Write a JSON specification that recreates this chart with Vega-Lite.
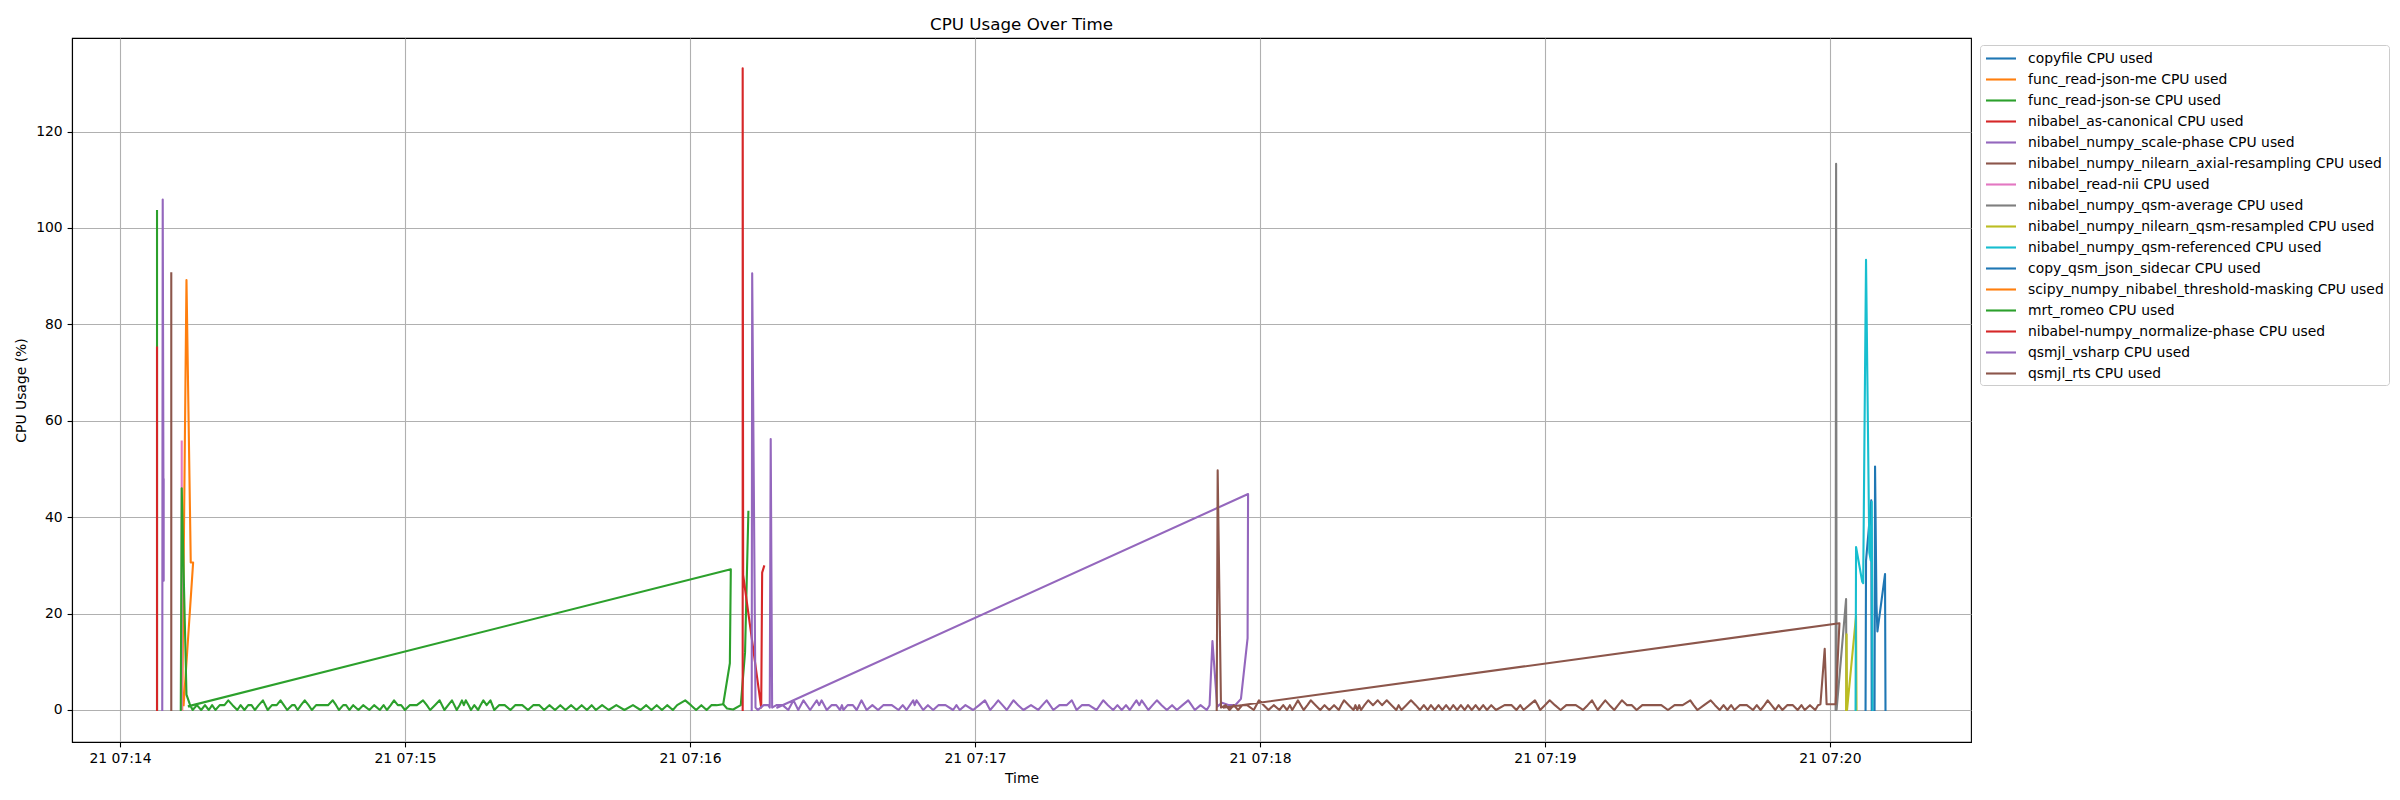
{
"$schema":"https://vega.github.io/schema/vega-lite/v6.json",
"width":1899,"height":704,
"autosize":{"type":"none"},
"padding":{"left":72,"top":38,"right":429,"bottom":58},
"background":"white",
"title":{"text":"CPU Usage Over Time","fontSize":16.7,"font":"DejaVu Sans","fontWeight":"normal","color":"black","anchor":"middle","offset":9,"dy":18,"baseline":"alphabetic"},
"datasets":{"names":[
{"k":0,"s":"copyfile CPU used"},{"k":1,"s":"func_read-json-me CPU used"},{"k":2,"s":"func_read-json-se CPU used"},{"k":3,"s":"nibabel_as-canonical CPU used"},{"k":4,"s":"nibabel_numpy_scale-phase CPU used"},{"k":5,"s":"nibabel_numpy_nilearn_axial-resampling CPU used"},{"k":6,"s":"nibabel_read-nii CPU used"},{"k":7,"s":"nibabel_numpy_qsm-average CPU used"},{"k":8,"s":"nibabel_numpy_nilearn_qsm-resampled CPU used"},{"k":9,"s":"nibabel_numpy_qsm-referenced CPU used"},{"k":10,"s":"copy_qsm_json_sidecar CPU used"},{"k":11,"s":"scipy_numpy_nibabel_threshold-masking CPU used"},{"k":12,"s":"mrt_romeo CPU used"},{"k":13,"s":"nibabel-numpy_normalize-phase CPU used"},{"k":14,"s":"qsmjl_vsharp CPU used"},{"k":15,"s":"qsmjl_rts CPU used"}]},
"data":{"values":[
{"k":0,"t":"2024-01-21T07:20:07.5","v":0},{"k":0,"t":"2024-01-21T07:20:07.6","v":31},{"k":0,"t":"2024-01-21T07:20:08.7","v":43.5},{"k":0,"t":"2024-01-21T07:20:08.8","v":0},
{"k":1,"t":"2024-01-21T07:14:13.1","v":0},{"k":1,"t":"2024-01-21T07:14:14.0","v":89.2},{"k":1,"t":"2024-01-21T07:14:14.8","v":37.3},{"k":1,"t":"2024-01-21T07:14:14.9","v":30.6},{"k":1,"t":"2024-01-21T07:14:15.4","v":30.6},{"k":1,"t":"2024-01-21T07:14:13.4","v":1},
{"k":2,"g":"a","t":"2024-01-21T07:14:07.8","v":0},{"k":2,"g":"a","t":"2024-01-21T07:14:07.8","v":103.5},
{"k":2,"g":"b","t":"2024-01-21T07:16:07.0","v":1.2},{"k":2,"g":"b","t":"2024-01-21T07:16:07.8","v":0.3},{"k":2,"g":"b","t":"2024-01-21T07:16:09.1","v":0.1},{"k":2,"g":"b","t":"2024-01-21T07:16:10.7","v":1},{"k":2,"g":"b","t":"2024-01-21T07:16:11.6","v":12},{"k":2,"g":"b","t":"2024-01-21T07:16:12.3","v":41.1},
{"k":3,"t":"2024-01-21T07:14:07.8","v":0},{"k":3,"t":"2024-01-21T07:14:07.8","v":75.2},
{"k":4,"t":"2024-01-21T07:14:08.9","v":0},{"k":4,"t":"2024-01-21T07:14:09.0","v":105.9},{"k":4,"t":"2024-01-21T07:14:09.2","v":26.8},{"k":4,"t":"2024-01-21T07:14:09.2","v":47.8},
{"k":5,"t":"2024-01-21T07:14:10.8","v":0},{"k":5,"t":"2024-01-21T07:14:10.8","v":90.6},
{"k":6,"t":"2024-01-21T07:14:13.0","v":0},{"k":6,"t":"2024-01-21T07:14:13.0","v":55.7},
{"k":7,"t":"2024-01-21T07:20:01.2","v":0},{"k":7,"t":"2024-01-21T07:20:01.3","v":113.3},{"k":7,"t":"2024-01-21T07:20:01.4","v":0},{"k":7,"t":"2024-01-21T07:20:03.4","v":23},{"k":7,"t":"2024-01-21T07:20:03.5","v":0},
{"k":8,"t":"2024-01-21T07:20:03.4","v":0},{"k":8,"t":"2024-01-21T07:20:03.5","v":15.7},{"k":8,"t":"2024-01-21T07:20:03.6","v":0},{"k":8,"t":"2024-01-21T07:20:05.5","v":19.5},{"k":8,"t":"2024-01-21T07:20:05.6","v":0},
{"k":9,"t":"2024-01-21T07:20:05.4","v":0},{"k":9,"t":"2024-01-21T07:20:05.5","v":33.8},{"k":9,"t":"2024-01-21T07:20:06.8","v":26.6},{"k":9,"t":"2024-01-21T07:20:07.0","v":26.3},{"k":9,"t":"2024-01-21T07:20:07.6","v":93.4},{"k":9,"t":"2024-01-21T07:20:08.3","v":32.6},{"k":9,"t":"2024-01-21T07:20:08.6","v":31},{"k":9,"t":"2024-01-21T07:20:08.8","v":43.2},{"k":9,"t":"2024-01-21T07:20:09.0","v":0},
{"k":10,"t":"2024-01-21T07:20:09.4","v":0},{"k":10,"t":"2024-01-21T07:20:09.5","v":50.5},{"k":10,"t":"2024-01-21T07:20:09.8","v":21.9},{"k":10,"t":"2024-01-21T07:20:10.0","v":16.3},{"k":10,"t":"2024-01-21T07:20:11.6","v":28.2},{"k":10,"t":"2024-01-21T07:20:11.7","v":0},
{"k":12,"t":"2024-01-21T07:14:12.8","v":0},{"k":12,"t":"2024-01-21T07:14:13.0","v":46},{"k":12,"t":"2024-01-21T07:14:14.0","v":3.2},{"k":12,"t":"2024-01-21T07:14:14.7","v":1.2},
{"k":12,"t":"2024-01-21T07:14:15.3","v":0},{"k":12,"t":"2024-01-21T07:14:16.2","v":1},{"k":12,"t":"2024-01-21T07:14:17.1","v":0},{"k":12,"t":"2024-01-21T07:14:17.9","v":1},{"k":12,"t":"2024-01-21T07:14:18.7","v":0},{"k":12,"t":"2024-01-21T07:14:19.4","v":1},{"k":12,"t":"2024-01-21T07:14:20.1","v":0},{"k":12,"t":"2024-01-21T07:14:21.0","v":1},{"k":12,"t":"2024-01-21T07:14:22.0","v":1},{"k":12,"t":"2024-01-21T07:14:22.8","v":2},{"k":12,"t":"2024-01-21T07:14:23.7","v":1},{"k":12,"t":"2024-01-21T07:14:24.7","v":0},{"k":12,"t":"2024-01-21T07:14:25.4","v":1},{"k":12,"t":"2024-01-21T07:14:26.2","v":0},{"k":12,"t":"2024-01-21T07:14:27.0","v":1},{"k":12,"t":"2024-01-21T07:14:27.7","v":1},{"k":12,"t":"2024-01-21T07:14:28.4","v":0},{"k":12,"t":"2024-01-21T07:14:29.2","v":1},{"k":12,"t":"2024-01-21T07:14:30.1","v":2},{"k":12,"t":"2024-01-21T07:14:31.1","v":0},{"k":12,"t":"2024-01-21T07:14:32.0","v":1},{"k":12,"t":"2024-01-21T07:14:33.0","v":1},{"k":12,"t":"2024-01-21T07:14:33.8","v":2},{"k":12,"t":"2024-01-21T07:14:34.5","v":1},{"k":12,"t":"2024-01-21T07:14:35.2","v":0},{"k":12,"t":"2024-01-21T07:14:36.2","v":1},{"k":12,"t":"2024-01-21T07:14:36.8","v":1},{"k":12,"t":"2024-01-21T07:14:37.4","v":0},{"k":12,"t":"2024-01-21T07:14:38.1","v":1},{"k":12,"t":"2024-01-21T07:14:38.9","v":2},{"k":12,"t":"2024-01-21T07:14:39.7","v":1},{"k":12,"t":"2024-01-21T07:14:40.4","v":0},{"k":12,"t":"2024-01-21T07:14:41.3","v":1},{"k":12,"t":"2024-01-21T07:14:42.5","v":1},{"k":12,"t":"2024-01-21T07:14:43.8","v":1},{"k":12,"t":"2024-01-21T07:14:44.8","v":2},{"k":12,"t":"2024-01-21T07:14:45.5","v":1},{"k":12,"t":"2024-01-21T07:14:46.1","v":0},{"k":12,"t":"2024-01-21T07:14:47.0","v":1},{"k":12,"t":"2024-01-21T07:14:47.6","v":1},{"k":12,"t":"2024-01-21T07:14:48.3","v":0},{"k":12,"t":"2024-01-21T07:14:49.1","v":1},{"k":12,"t":"2024-01-21T07:14:50.2","v":0},{"k":12,"t":"2024-01-21T07:14:51.2","v":1},{"k":12,"t":"2024-01-21T07:14:52.5","v":0},{"k":12,"t":"2024-01-21T07:14:53.5","v":1},{"k":12,"t":"2024-01-21T07:14:54.7","v":0},{"k":12,"t":"2024-01-21T07:14:55.5","v":1},{"k":12,"t":"2024-01-21T07:14:56.2","v":0},{"k":12,"t":"2024-01-21T07:14:57.0","v":1},{"k":12,"t":"2024-01-21T07:14:57.7","v":2},{"k":12,"t":"2024-01-21T07:14:58.5","v":1},{"k":12,"t":"2024-01-21T07:14:59.2","v":1},
{"k":12,"t":"2024-01-21T07:15:00.0","v":0},{"k":12,"t":"2024-01-21T07:15:01.0","v":1},{"k":12,"t":"2024-01-21T07:15:02.5","v":1},{"k":12,"t":"2024-01-21T07:15:03.8","v":2},{"k":12,"t":"2024-01-21T07:15:04.6","v":1},{"k":12,"t":"2024-01-21T07:15:05.3","v":0},{"k":12,"t":"2024-01-21T07:15:06.3","v":1},{"k":12,"t":"2024-01-21T07:15:07.3","v":2},{"k":12,"t":"2024-01-21T07:15:08.3","v":0},{"k":12,"t":"2024-01-21T07:15:09.1","v":1},{"k":12,"t":"2024-01-21T07:15:09.9","v":2},{"k":12,"t":"2024-01-21T07:15:10.9","v":0},{"k":12,"t":"2024-01-21T07:15:11.5","v":1},{"k":12,"t":"2024-01-21T07:15:12.0","v":2},{"k":12,"t":"2024-01-21T07:15:12.4","v":1},{"k":12,"t":"2024-01-21T07:15:12.8","v":2},{"k":12,"t":"2024-01-21T07:15:13.4","v":1},{"k":12,"t":"2024-01-21T07:15:13.9","v":0},{"k":12,"t":"2024-01-21T07:15:14.6","v":1},{"k":12,"t":"2024-01-21T07:15:15.4","v":0},{"k":12,"t":"2024-01-21T07:15:15.9","v":1},{"k":12,"t":"2024-01-21T07:15:16.5","v":2},{"k":12,"t":"2024-01-21T07:15:17.2","v":1},{"k":12,"t":"2024-01-21T07:15:18.0","v":2},{"k":12,"t":"2024-01-21T07:15:18.8","v":0},{"k":12,"t":"2024-01-21T07:15:19.8","v":1},{"k":12,"t":"2024-01-21T07:15:21.0","v":1},{"k":12,"t":"2024-01-21T07:15:22.2","v":0},{"k":12,"t":"2024-01-21T07:15:23.2","v":1},{"k":12,"t":"2024-01-21T07:15:24.7","v":1},{"k":12,"t":"2024-01-21T07:15:25.9","v":0},{"k":12,"t":"2024-01-21T07:15:27.0","v":1},{"k":12,"t":"2024-01-21T07:15:28.3","v":1},{"k":12,"t":"2024-01-21T07:15:29.3","v":0},{"k":12,"t":"2024-01-21T07:15:30.4","v":1},{"k":12,"t":"2024-01-21T07:15:31.6","v":0},{"k":12,"t":"2024-01-21T07:15:32.7","v":1},{"k":12,"t":"2024-01-21T07:15:33.8","v":0},{"k":12,"t":"2024-01-21T07:15:35.0","v":1},{"k":12,"t":"2024-01-21T07:15:36.1","v":0},{"k":12,"t":"2024-01-21T07:15:37.2","v":1},{"k":12,"t":"2024-01-21T07:15:38.3","v":0},{"k":12,"t":"2024-01-21T07:15:39.3","v":1},{"k":12,"t":"2024-01-21T07:15:40.2","v":0},{"k":12,"t":"2024-01-21T07:15:41.5","v":1},{"k":12,"t":"2024-01-21T07:15:42.9","v":0},{"k":12,"t":"2024-01-21T07:15:44.5","v":1},{"k":12,"t":"2024-01-21T07:15:46.2","v":0},{"k":12,"t":"2024-01-21T07:15:48.0","v":1},{"k":12,"t":"2024-01-21T07:15:49.6","v":0},{"k":12,"t":"2024-01-21T07:15:50.8","v":1},{"k":12,"t":"2024-01-21T07:15:51.9","v":0},{"k":12,"t":"2024-01-21T07:15:53.0","v":1},{"k":12,"t":"2024-01-21T07:15:54.1","v":0},{"k":12,"t":"2024-01-21T07:15:55.2","v":1},{"k":12,"t":"2024-01-21T07:15:56.4","v":0},{"k":12,"t":"2024-01-21T07:15:57.3","v":1},{"k":12,"t":"2024-01-21T07:15:59.0","v":2},
{"k":12,"t":"2024-01-21T07:16:00.2","v":1},{"k":12,"t":"2024-01-21T07:16:01.3","v":0},{"k":12,"t":"2024-01-21T07:16:02.4","v":1},{"k":12,"t":"2024-01-21T07:16:03.5","v":0},{"k":12,"t":"2024-01-21T07:16:04.5","v":1},{"k":12,"t":"2024-01-21T07:16:05.6","v":1},{"k":12,"t":"2024-01-21T07:16:07.0","v":1.2},{"k":12,"t":"2024-01-21T07:16:08.4","v":9.7},{"k":12,"t":"2024-01-21T07:16:08.6","v":29.2},{"k":12,"t":"2024-01-21T07:14:14.5","v":0.8},
{"k":13,"t":"2024-01-21T07:16:11.1","v":0},{"k":13,"t":"2024-01-21T07:16:11.1","v":133.1},{"k":13,"t":"2024-01-21T07:16:11.2","v":28},{"k":13,"t":"2024-01-21T07:16:15.0","v":0.5},{"k":13,"t":"2024-01-21T07:16:15.2","v":28.5},{"k":13,"t":"2024-01-21T07:16:15.6","v":29.8},
{"k":14,"t":"2024-01-21T07:16:13.0","v":0},{"k":14,"t":"2024-01-21T07:16:13.1","v":90.6},{"k":14,"t":"2024-01-21T07:16:13.8","v":0.5},{"k":14,"t":"2024-01-21T07:16:14.3","v":0},{"k":14,"t":"2024-01-21T07:16:15.5","v":1},{"k":14,"t":"2024-01-21T07:16:16.5","v":1},{"k":14,"t":"2024-01-21T07:16:16.8","v":0.5},{"k":14,"t":"2024-01-21T07:16:17.0","v":56.2},{"k":14,"t":"2024-01-21T07:16:17.3","v":0.5},
{"k":14,"t":"2024-01-21T07:16:18.2","v":1},{"k":14,"t":"2024-01-21T07:16:19.5","v":1},{"k":14,"t":"2024-01-21T07:16:20.7","v":0},{"k":14,"t":"2024-01-21T07:16:21.8","v":2},{"k":14,"t":"2024-01-21T07:16:22.8","v":0},{"k":14,"t":"2024-01-21T07:16:23.9","v":2},{"k":14,"t":"2024-01-21T07:16:25.3","v":0},{"k":14,"t":"2024-01-21T07:16:26.7","v":2},{"k":14,"t":"2024-01-21T07:16:27.2","v":1},{"k":14,"t":"2024-01-21T07:16:27.7","v":2},{"k":14,"t":"2024-01-21T07:16:28.8","v":0},{"k":14,"t":"2024-01-21T07:16:29.8","v":1},{"k":14,"t":"2024-01-21T07:16:30.8","v":1},{"k":14,"t":"2024-01-21T07:16:31.6","v":0},{"k":14,"t":"2024-01-21T07:16:32.0","v":1},{"k":14,"t":"2024-01-21T07:16:32.3","v":0},{"k":14,"t":"2024-01-21T07:16:33.2","v":1},{"k":14,"t":"2024-01-21T07:16:34.3","v":1},{"k":14,"t":"2024-01-21T07:16:35.1","v":0},{"k":14,"t":"2024-01-21T07:16:36.1","v":2},{"k":14,"t":"2024-01-21T07:16:37.2","v":0},{"k":14,"t":"2024-01-21T07:16:38.4","v":1},{"k":14,"t":"2024-01-21T07:16:39.6","v":0},{"k":14,"t":"2024-01-21T07:16:40.7","v":1},{"k":14,"t":"2024-01-21T07:16:42.5","v":1},{"k":14,"t":"2024-01-21T07:16:43.9","v":0},{"k":14,"t":"2024-01-21T07:16:44.8","v":1},{"k":14,"t":"2024-01-21T07:16:45.6","v":0},{"k":14,"t":"2024-01-21T07:16:46.3","v":1},{"k":14,"t":"2024-01-21T07:16:47.0","v":2},{"k":14,"t":"2024-01-21T07:16:47.3","v":1},{"k":14,"t":"2024-01-21T07:16:47.7","v":2},{"k":14,"t":"2024-01-21T07:16:48.4","v":1},{"k":14,"t":"2024-01-21T07:16:49.1","v":0},{"k":14,"t":"2024-01-21T07:16:50.1","v":1},{"k":14,"t":"2024-01-21T07:16:51.2","v":0},{"k":14,"t":"2024-01-21T07:16:52.3","v":1},{"k":14,"t":"2024-01-21T07:16:53.8","v":1},{"k":14,"t":"2024-01-21T07:16:55.4","v":0},{"k":14,"t":"2024-01-21T07:16:56.1","v":1},{"k":14,"t":"2024-01-21T07:16:56.8","v":0},{"k":14,"t":"2024-01-21T07:16:58.0","v":1},{"k":14,"t":"2024-01-21T07:16:59.6","v":0},
{"k":14,"t":"2024-01-21T07:17:00.9","v":1},{"k":14,"t":"2024-01-21T07:17:02.1","v":2},{"k":14,"t":"2024-01-21T07:17:03.2","v":0},{"k":14,"t":"2024-01-21T07:17:04.1","v":1},{"k":14,"t":"2024-01-21T07:17:04.9","v":2},{"k":14,"t":"2024-01-21T07:17:05.8","v":1},{"k":14,"t":"2024-01-21T07:17:06.7","v":0},{"k":14,"t":"2024-01-21T07:17:07.4","v":1},{"k":14,"t":"2024-01-21T07:17:08.1","v":2},{"k":14,"t":"2024-01-21T07:17:09.1","v":1},{"k":14,"t":"2024-01-21T07:17:10.2","v":0},{"k":14,"t":"2024-01-21T07:17:11.8","v":1},{"k":14,"t":"2024-01-21T07:17:13.3","v":0},{"k":14,"t":"2024-01-21T07:17:14.2","v":1},{"k":14,"t":"2024-01-21T07:17:15.1","v":2},{"k":14,"t":"2024-01-21T07:17:15.8","v":1},{"k":14,"t":"2024-01-21T07:17:16.5","v":0},{"k":14,"t":"2024-01-21T07:17:17.8","v":1},{"k":14,"t":"2024-01-21T07:17:19.3","v":1},{"k":14,"t":"2024-01-21T07:17:20.4","v":2},{"k":14,"t":"2024-01-21T07:17:21.4","v":0},{"k":14,"t":"2024-01-21T07:17:22.5","v":1},{"k":14,"t":"2024-01-21T07:17:24.0","v":1},{"k":14,"t":"2024-01-21T07:17:25.6","v":0},{"k":14,"t":"2024-01-21T07:17:26.3","v":1},{"k":14,"t":"2024-01-21T07:17:27.0","v":2},{"k":14,"t":"2024-01-21T07:17:28.0","v":1},{"k":14,"t":"2024-01-21T07:17:29.1","v":0},{"k":14,"t":"2024-01-21T07:17:30.0","v":1},{"k":14,"t":"2024-01-21T07:17:30.9","v":0},{"k":14,"t":"2024-01-21T07:17:31.8","v":1},{"k":14,"t":"2024-01-21T07:17:32.6","v":0},{"k":14,"t":"2024-01-21T07:17:33.3","v":1},{"k":14,"t":"2024-01-21T07:17:34.0","v":2},{"k":14,"t":"2024-01-21T07:17:34.6","v":1},{"k":14,"t":"2024-01-21T07:17:35.1","v":2},{"k":14,"t":"2024-01-21T07:17:35.8","v":1},{"k":14,"t":"2024-01-21T07:17:36.5","v":0},{"k":14,"t":"2024-01-21T07:17:37.4","v":1},{"k":14,"t":"2024-01-21T07:17:38.3","v":2},{"k":14,"t":"2024-01-21T07:17:39.3","v":1},{"k":14,"t":"2024-01-21T07:17:40.4","v":0},{"k":14,"t":"2024-01-21T07:17:41.5","v":1},{"k":14,"t":"2024-01-21T07:17:42.5","v":0},{"k":14,"t":"2024-01-21T07:17:43.7","v":1},{"k":14,"t":"2024-01-21T07:17:44.9","v":2},{"k":14,"t":"2024-01-21T07:17:45.6","v":1},{"k":14,"t":"2024-01-21T07:17:46.3","v":0},{"k":14,"t":"2024-01-21T07:17:47.5","v":1},{"k":14,"t":"2024-01-21T07:17:48.8","v":0},{"k":14,"t":"2024-01-21T07:17:49.4","v":1},{"k":14,"t":"2024-01-21T07:17:50.0","v":14.3},{"k":14,"t":"2024-01-21T07:17:51.0","v":0.7},{"k":14,"t":"2024-01-21T07:17:52.0","v":1.5},{"k":14,"t":"2024-01-21T07:17:53.5","v":1},{"k":14,"t":"2024-01-21T07:17:54.8","v":1},{"k":14,"t":"2024-01-21T07:17:56.0","v":2.3},{"k":14,"t":"2024-01-21T07:17:57.4","v":14.9},{"k":14,"t":"2024-01-21T07:17:57.5","v":44.8},{"k":14,"t":"2024-01-21T07:16:18.4","v":0.5},
{"k":15,"t":"2024-01-21T07:17:50.9","v":0},{"k":15,"t":"2024-01-21T07:17:51.1","v":49.7},{"k":15,"t":"2024-01-21T07:17:51.8","v":0.5},{"k":15,"t":"2024-01-21T07:17:52.8","v":1},{"k":15,"t":"2024-01-21T07:17:53.6","v":0},{"k":15,"t":"2024-01-21T07:17:54.5","v":1},{"k":15,"t":"2024-01-21T07:17:55.4","v":0},{"k":15,"t":"2024-01-21T07:17:56.3","v":1},{"k":15,"t":"2024-01-21T07:17:57.3","v":1},{"k":15,"t":"2024-01-21T07:17:58.7","v":0},{"k":15,"t":"2024-01-21T07:17:59.8","v":2},
{"k":15,"t":"2024-01-21T07:18:00.8","v":1},{"k":15,"t":"2024-01-21T07:18:01.8","v":0},{"k":15,"t":"2024-01-21T07:18:02.9","v":1},{"k":15,"t":"2024-01-21T07:18:04.1","v":0},{"k":15,"t":"2024-01-21T07:18:04.9","v":1},{"k":15,"t":"2024-01-21T07:18:05.7","v":0},{"k":15,"t":"2024-01-21T07:18:06.3","v":1},{"k":15,"t":"2024-01-21T07:18:06.8","v":0},{"k":15,"t":"2024-01-21T07:18:07.4","v":1},{"k":15,"t":"2024-01-21T07:18:08.0","v":2},{"k":15,"t":"2024-01-21T07:18:08.6","v":1},{"k":15,"t":"2024-01-21T07:18:09.2","v":0},{"k":15,"t":"2024-01-21T07:18:10.0","v":1},{"k":15,"t":"2024-01-21T07:18:10.7","v":2},{"k":15,"t":"2024-01-21T07:18:11.7","v":1},{"k":15,"t":"2024-01-21T07:18:12.7","v":0},{"k":15,"t":"2024-01-21T07:18:13.6","v":1},{"k":15,"t":"2024-01-21T07:18:14.6","v":0},{"k":15,"t":"2024-01-21T07:18:15.6","v":1},{"k":15,"t":"2024-01-21T07:18:16.6","v":0},{"k":15,"t":"2024-01-21T07:18:17.1","v":1},{"k":15,"t":"2024-01-21T07:18:17.7","v":2},{"k":15,"t":"2024-01-21T07:18:18.7","v":1},{"k":15,"t":"2024-01-21T07:18:19.7","v":0},{"k":15,"t":"2024-01-21T07:18:20.1","v":1},{"k":15,"t":"2024-01-21T07:18:20.5","v":0},{"k":15,"t":"2024-01-21T07:18:20.9","v":1},{"k":15,"t":"2024-01-21T07:18:21.3","v":0},{"k":15,"t":"2024-01-21T07:18:22.0","v":1},{"k":15,"t":"2024-01-21T07:18:22.8","v":2},{"k":15,"t":"2024-01-21T07:18:23.8","v":1},{"k":15,"t":"2024-01-21T07:18:24.8","v":2},{"k":15,"t":"2024-01-21T07:18:25.7","v":1},{"k":15,"t":"2024-01-21T07:18:26.7","v":2},{"k":15,"t":"2024-01-21T07:18:27.7","v":1},{"k":15,"t":"2024-01-21T07:18:28.7","v":0},{"k":15,"t":"2024-01-21T07:18:29.2","v":1},{"k":15,"t":"2024-01-21T07:18:29.8","v":0},{"k":15,"t":"2024-01-21T07:18:30.8","v":1},{"k":15,"t":"2024-01-21T07:18:31.8","v":2},{"k":15,"t":"2024-01-21T07:18:32.8","v":1},{"k":15,"t":"2024-01-21T07:18:33.7","v":0},{"k":15,"t":"2024-01-21T07:18:34.5","v":1},{"k":15,"t":"2024-01-21T07:18:35.3","v":0},{"k":15,"t":"2024-01-21T07:18:36.0","v":1},{"k":15,"t":"2024-01-21T07:18:36.8","v":0},{"k":15,"t":"2024-01-21T07:18:37.6","v":1},{"k":15,"t":"2024-01-21T07:18:38.4","v":0},{"k":15,"t":"2024-01-21T07:18:39.2","v":1},{"k":15,"t":"2024-01-21T07:18:40.0","v":0},{"k":15,"t":"2024-01-21T07:18:40.7","v":1},{"k":15,"t":"2024-01-21T07:18:41.5","v":0},{"k":15,"t":"2024-01-21T07:18:42.3","v":1},{"k":15,"t":"2024-01-21T07:18:43.1","v":0},{"k":15,"t":"2024-01-21T07:18:43.8","v":1},{"k":15,"t":"2024-01-21T07:18:44.6","v":0},{"k":15,"t":"2024-01-21T07:18:45.4","v":1},{"k":15,"t":"2024-01-21T07:18:46.2","v":0},{"k":15,"t":"2024-01-21T07:18:47.0","v":1},{"k":15,"t":"2024-01-21T07:18:47.8","v":0},{"k":15,"t":"2024-01-21T07:18:48.7","v":1},{"k":15,"t":"2024-01-21T07:18:49.7","v":0},{"k":15,"t":"2024-01-21T07:18:51.5","v":1},{"k":15,"t":"2024-01-21T07:18:53.0","v":1},{"k":15,"t":"2024-01-21T07:18:54.0","v":0},{"k":15,"t":"2024-01-21T07:18:54.8","v":1},{"k":15,"t":"2024-01-21T07:18:55.5","v":0},{"k":15,"t":"2024-01-21T07:18:56.7","v":1},{"k":15,"t":"2024-01-21T07:18:57.9","v":2},{"k":15,"t":"2024-01-21T07:18:58.5","v":1},{"k":15,"t":"2024-01-21T07:18:59.0","v":0},
{"k":15,"t":"2024-01-21T07:19:00.0","v":1},{"k":15,"t":"2024-01-21T07:19:01.0","v":2},{"k":15,"t":"2024-01-21T07:19:02.1","v":1},{"k":15,"t":"2024-01-21T07:19:03.3","v":0},{"k":15,"t":"2024-01-21T07:19:04.5","v":1},{"k":15,"t":"2024-01-21T07:19:06.5","v":1},{"k":15,"t":"2024-01-21T07:19:08.0","v":0},{"k":15,"t":"2024-01-21T07:19:09.0","v":1},{"k":15,"t":"2024-01-21T07:19:09.9","v":2},{"k":15,"t":"2024-01-21T07:19:10.5","v":1},{"k":15,"t":"2024-01-21T07:19:11.1","v":0},{"k":15,"t":"2024-01-21T07:19:11.9","v":1},{"k":15,"t":"2024-01-21T07:19:12.7","v":2},{"k":15,"t":"2024-01-21T07:19:13.6","v":1},{"k":15,"t":"2024-01-21T07:19:14.6","v":0},{"k":15,"t":"2024-01-21T07:19:15.4","v":1},{"k":15,"t":"2024-01-21T07:19:16.2","v":2},{"k":15,"t":"2024-01-21T07:19:17.3","v":1},{"k":15,"t":"2024-01-21T07:19:18.3","v":1},{"k":15,"t":"2024-01-21T07:19:19.3","v":0},{"k":15,"t":"2024-01-21T07:19:20.5","v":1},{"k":15,"t":"2024-01-21T07:19:22.5","v":1},{"k":15,"t":"2024-01-21T07:19:24.5","v":1},{"k":15,"t":"2024-01-21T07:19:25.9","v":0},{"k":15,"t":"2024-01-21T07:19:27.3","v":1},{"k":15,"t":"2024-01-21T07:19:29.0","v":1},{"k":15,"t":"2024-01-21T07:19:30.6","v":2},{"k":15,"t":"2024-01-21T07:19:31.3","v":1},{"k":15,"t":"2024-01-21T07:19:32.1","v":0},{"k":15,"t":"2024-01-21T07:19:33.5","v":1},{"k":15,"t":"2024-01-21T07:19:34.9","v":2},{"k":15,"t":"2024-01-21T07:19:35.8","v":1},{"k":15,"t":"2024-01-21T07:19:36.8","v":0},{"k":15,"t":"2024-01-21T07:19:37.6","v":1},{"k":15,"t":"2024-01-21T07:19:38.4","v":0},{"k":15,"t":"2024-01-21T07:19:39.2","v":1},{"k":15,"t":"2024-01-21T07:19:39.9","v":0},{"k":15,"t":"2024-01-21T07:19:41.0","v":1},{"k":15,"t":"2024-01-21T07:19:42.5","v":1},{"k":15,"t":"2024-01-21T07:19:43.8","v":0},{"k":15,"t":"2024-01-21T07:19:44.6","v":1},{"k":15,"t":"2024-01-21T07:19:45.4","v":0},{"k":15,"t":"2024-01-21T07:19:46.2","v":1},{"k":15,"t":"2024-01-21T07:19:46.9","v":2},{"k":15,"t":"2024-01-21T07:19:47.7","v":1},{"k":15,"t":"2024-01-21T07:19:48.5","v":0},{"k":15,"t":"2024-01-21T07:19:49.2","v":1},{"k":15,"t":"2024-01-21T07:19:50.0","v":0},{"k":15,"t":"2024-01-21T07:19:51.0","v":1},{"k":15,"t":"2024-01-21T07:19:52.2","v":1},{"k":15,"t":"2024-01-21T07:19:53.2","v":0},{"k":15,"t":"2024-01-21T07:19:54.0","v":1},{"k":15,"t":"2024-01-21T07:19:54.7","v":0},{"k":15,"t":"2024-01-21T07:19:55.8","v":1},{"k":15,"t":"2024-01-21T07:19:56.9","v":0},{"k":15,"t":"2024-01-21T07:19:57.5","v":1},{"k":15,"t":"2024-01-21T07:19:58.0","v":1.2},{"k":15,"t":"2024-01-21T07:19:58.9","v":12.7},{"k":15,"t":"2024-01-21T07:19:59.3","v":1.2},{"k":15,"t":"2024-01-21T07:20:01.2","v":1.2},{"k":15,"t":"2024-01-21T07:20:02.0","v":18},{"k":15,"t":"2024-01-21T07:17:52.4","v":0.5}
]},
"transform":[{"lookup":"k","from":{"data":{"name":"names"},"key":"k","fields":["s"]}}],
"mark":{"type":"line","strokeWidth":2.1,"strokeJoin":"round","strokeCap":"square","clip":true},
"encoding":{
"x":{"field":"t","type":"temporal","scale":{"nice":false,"domain":[{"year":2024,"month":1,"date":21,"hours":7,"minutes":13,"seconds":49,"milliseconds":900},{"year":2024,"month":1,"date":21,"hours":7,"minutes":20,"seconds":29,"milliseconds":700}]},
"axis":{"title":"Time","format":"%d %H:%M","titleY":36,"titleBaseline":"middle","values":[{"year":2024,"month":1,"date":21,"hours":7,"minutes":14},{"year":2024,"month":1,"date":21,"hours":7,"minutes":15},{"year":2024,"month":1,"date":21,"hours":7,"minutes":16},{"year":2024,"month":1,"date":21,"hours":7,"minutes":17},{"year":2024,"month":1,"date":21,"hours":7,"minutes":18},{"year":2024,"month":1,"date":21,"hours":7,"minutes":19},{"year":2024,"month":1,"date":21,"hours":7,"minutes":20}]}},
"y":{"field":"v","type":"quantitative","scale":{"domain":[-6.64,139.4],"nice":false,"zero":false},"axis":{"title":"CPU Usage (%)","values":[0,20,40,60,80,100,120],"titleX":-50.5,"titleY":352,"titleAngle":270,"titleBaseline":"middle","titleAlign":"center"}},
"color":{"field":"s","type":"nominal","scale":{"domain":["copyfile CPU used","func_read-json-me CPU used","func_read-json-se CPU used","nibabel_as-canonical CPU used","nibabel_numpy_scale-phase CPU used","nibabel_numpy_nilearn_axial-resampling CPU used","nibabel_read-nii CPU used","nibabel_numpy_qsm-average CPU used","nibabel_numpy_nilearn_qsm-resampled CPU used","nibabel_numpy_qsm-referenced CPU used","copy_qsm_json_sidecar CPU used","scipy_numpy_nibabel_threshold-masking CPU used","mrt_romeo CPU used","nibabel-numpy_normalize-phase CPU used","qsmjl_vsharp CPU used","qsmjl_rts CPU used"],"range":["#1f77b4","#ff7f0e","#2ca02c","#d62728","#9467bd","#8c564b","#e377c2","#7f7f7f","#bcbd22","#17becf","#1f77b4","#ff7f0e","#2ca02c","#d62728","#9467bd","#8c564b"]},
"legend":{"orient":"none","legendX":1908,"legendY":7,"title":null,"symbolType":"M-1,0H3","symbolSize":225,"symbolStrokeWidth":2.1,"labelFont":"DejaVu Sans","labelFontSize":13.9,"labelColor":"black","labelLimit":800,"rowPadding":5.0,"padding":4.5,"strokeColor":"#cccccc","fillColor":"white","cornerRadius":3,"labelOffset":25.5}},
"detail":{"field":"g"},
"order":{"value":null}
},
"config":{
"view":{"stroke":"black","strokeWidth":1.1},
"axis":{"labelFont":"DejaVu Sans","labelFontSize":13.9,"labelColor":"black","titleFont":"DejaVu Sans","titleFontSize":13.9,"titleColor":"black","titleFontWeight":"normal","domainColor":"black","domainWidth":1.1,"tickColor":"black","tickWidth":1.1,"tickSize":4.9,"labelPadding":4.9,"grid":true,"gridColor":"#b0b0b0","gridWidth":1.1,"labelFlush":false,"labelOverlap":false}
}
}
